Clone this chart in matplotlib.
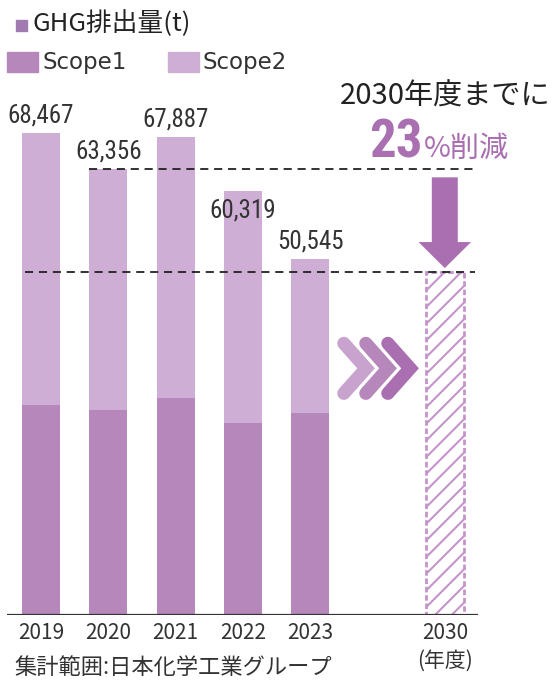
import numpy as np
import matplotlib.pyplot as plt
from matplotlib.patches import Rectangle, FancyArrow

plt.rcParams['font.family'] = ['Noto Sans CJK JP', 'DejaVu Sans']
plt.rcParams['hatch.linewidth'] = 1.5

years = ['2019', '2020', '2021', '2022', '2023']
totals = np.array([68467, 63356, 67887, 60319, 50545])
scope1 = np.array([29800, 29100, 30800, 27300, 28700])
scope2 = totals - scope1

base_year_total = totals[1]
reduction = 0.23
target_2030 = base_year_total * (1 - reduction)

c_scope1 = '#b587bb'
c_scope2 = '#ceaed4'
c_dark = '#a96fb0'
c_text = '#333333'
num_font = ['Liberation Sans Narrow', 'Roboto Condensed', 'DejaVu Sans']

W, H = 552, 682
fig = plt.figure(figsize=(W / 100, H / 100), dpi=100)
ax = fig.add_axes([0, 67 / H, 1, 563 / H])

x = np.arange(len(years))
x_target = 6
bw = 0.565

ax.bar(x, scope1, bw, color=c_scope1, zorder=2)
ax.bar(x, scope2, bw, bottom=scope1, color=c_scope2, zorder=2)

# 2030 target bar (hatched, dashed outline)
ax.bar(x_target, target_2030, bw, facecolor='white', edgecolor='#c594cb',
       hatch='//', linewidth=2.0, linestyle=(0, (2, 1)), zorder=2)

# value labels; a label that would cross the base-year line drops below it
px = 563 / 80000  # pixels per tonne
for xi, v in zip(x, totals):
    y_lab = v + 6 / px
    va = 'bottom'
    if v < base_year_total and y_lab + 20 / px > base_year_total:
        y_lab = base_year_total - 29 / px
        va = 'top'
    ax.text(xi, y_lab, f'{v:,}', ha='center', va=va, fontsize=18,
            color=c_text, family=num_font, zorder=5)

# reference lines
ax.plot([x[1] - bw / 2, 6.49], [base_year_total] * 2, color='#222222',
        lw=1.3, dashes=(4.5, 3.2), zorder=3)
ax.plot([-0.24, 6.45], [target_2030] * 2, color='#222222',
        lw=1.3, dashes=(4.5, 3.2), zorder=3)

# baseline
ax.plot([-0.505, 6.49], [0, 0], color='#333333', lw=1.6, zorder=4,
        solid_capstyle='butt')

# down arrow from base level to target
gap = base_year_total - target_2030
arr_top = base_year_total - 0.08 * gap
arr_tip = target_2030 + 0.035 * gap
ax.add_patch(FancyArrow(x_target, arr_top, 0, arr_tip - arr_top,
                        width=0.386, head_width=0.78, head_length=3700,
                        length_includes_head=True, color=c_dark, lw=0,
                        zorder=4))

# chevrons between 2023 and 2030
chev_cols = ['#c8a3cd', '#b587bb', '#a96fb0']
y_mid = 35050
for i, col in enumerate(chev_cols):
    x0 = 4.5 + i * 0.327
    ax.plot([x0, x0 + 0.33, x0], [y_mid + 3550, y_mid, y_mid - 3550],
            color=col, lw=9.5, solid_capstyle='round',
            solid_joinstyle='miter', zorder=3)

ax.set_xlim(-41 / 67.3, 511 / 67.3)
ax.set_ylim(0, 80000)
for s in ax.spines.values():
    s.set_visible(False)
ax.set_yticks([])
ax.set_xticks(list(x) + [x_target])
ax.set_xticklabels(years + ['2030\n(年度)'], fontsize=15, color=c_text,
                   linespacing=1.35)
ax.tick_params(axis='x', length=0, pad=5)


def fx(px):
    return px / W


def fy(py):
    return 1 - py / H


# title and legend
fig.add_artist(Rectangle((fx(16), fy(31)), 11 / W, 11 / H, color='#a07ab0',
                         transform=fig.transFigure))
fig.text(fx(33), fy(24), 'GHG排出量(t)', fontsize=18.5, color='#222222',
         va='center', ha='left')
fig.add_artist(Rectangle((fx(7), fy(72)), 31 / W, 20 / H, color=c_scope1,
                         transform=fig.transFigure))
fig.text(fx(42), fy(62), 'Scope1', fontsize=16.5, color=c_text,
         va='center', ha='left', family='DejaVu Sans')
fig.add_artist(Rectangle((fx(168), fy(72)), 31 / W, 20 / H, color=c_scope2,
                         transform=fig.transFigure))
fig.text(fx(202), fy(62), 'Scope2', fontsize=16.5, color=c_text,
         va='center', ha='left', family='DejaVu Sans')

# target annotation
fig.text(fx(550), fy(97), '2030年度までに', fontsize=21, color='#222222',
         va='center', ha='right')
fig.text(fx(423), fy(157), '23', fontsize=38, color=c_dark, weight='bold',
         va='baseline', ha='right', family=num_font)
fig.text(fx(424), fy(157), '%削減', fontsize=21, color=c_dark,
         va='baseline', ha='left')

# scope note
fig.text(fx(14), fy(667), '集計範囲:日本化学工業グループ', fontsize=16,
         color=c_text, va='center', ha='left')

fig.savefig('out.png', dpi=100)
